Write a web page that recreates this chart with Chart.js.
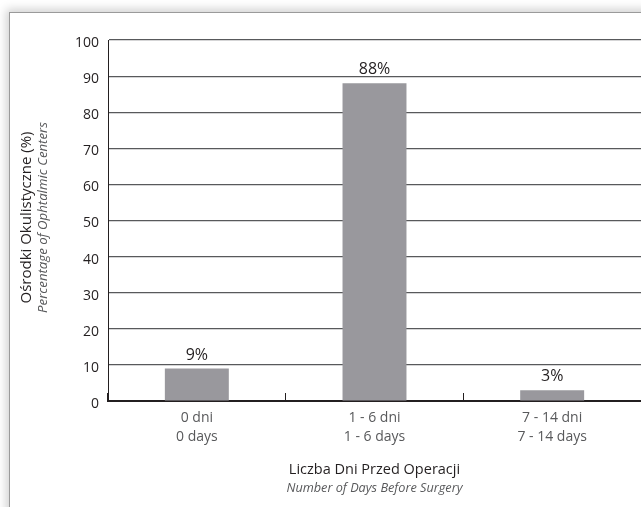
<!DOCTYPE html>
<html>
<head>
<meta charset="utf-8">
<script src="https://cdn.jsdelivr.net/npm/chart.js@4.4.1/dist/chart.umd.min.js"></script>
<style>
  html, body { margin:0; padding:0; background:#fff; width:641px; height:507px; overflow:hidden; }
  #panel { position:absolute; left:9px; top:12px; width:700px; height:600px; background:#fff;
           border-left:1px solid #9a9a9a; border-top:1px solid #9a9a9a;
           box-shadow:-3px -3px 9px rgba(0,0,0,0.18); }
  #c { position:absolute; left:0; top:0; }
</style>
</head>
<body>
<div id="panel"></div>
<canvas id="c" width="641" height="507"></canvas>
<script>
const categories = [['0 dni','0 days'], ['1 - 6 dni','1 - 6 days'], ['7 - 14 dni','7 - 14 days']];
const values = [9, 88, 3];
const yTicks = [0,10,20,30,40,50,60,70,80,90,100];
const yTitle = ['Ośrodki Okulistyczne (%)', 'Percentage of Ophtalmic Centers'];
const xTitle = ['Liczba Dni Przed Operacji', 'Number of Days Before Surgery'];

const FONT = '"Open Sans", "Noto Sans", sans-serif';

const labelsPlugin = {
  id: 'valueLabels',
  afterDatasetsDraw(chart) {
    const ctx = chart.ctx;
    const meta = chart.getDatasetMeta(0);
    ctx.save();
    ctx.font = '16px ' + FONT;
    ctx.fillStyle = '#231f20';
    ctx.textAlign = 'center';
    ctx.textBaseline = 'alphabetic';
    meta.data.forEach((bar, i) => {
      ctx.fillText(values[i] + '%', bar.x, bar.y - 9);
    });
    ctx.restore();
  }
};

const titlesPlugin = {
  id: 'axisTitles',
  afterDraw(chart) {
    const ctx = chart.ctx;
    const a = chart.chartArea;
    ctx.save();
    ctx.textAlign = 'center';
    ctx.textBaseline = 'middle';
    // x title
    const cx = (a.left + a.right) / 2;
    ctx.fillStyle = '#231f20';
    ctx.font = '14.5px ' + FONT;
    ctx.fillText(xTitle[0], cx, a.bottom + 69);
    ctx.fillStyle = '#58595b';
    ctx.font = 'italic 12.7px ' + FONT;
    ctx.fillText(xTitle[1], cx, a.bottom + 87);
    // y title
    const cy = (a.top + a.bottom) / 2 - 3;
    ctx.translate(a.left - 81, cy);
    ctx.rotate(-Math.PI / 2);
    ctx.fillStyle = '#231f20';
    ctx.font = '15px ' + FONT;
    ctx.fillText(yTitle[0], 0, 0);
    ctx.fillStyle = '#58595b';
    ctx.font = 'italic 13.2px ' + FONT;
    ctx.fillText(yTitle[1], 0, 16);
    ctx.restore();
  }
};

new Chart(document.getElementById('c'), {
  type: 'bar',
  data: {
    labels: categories,
    datasets: [{
      data: values,
      backgroundColor: '#99989d',
      borderWidth: 0,
      categoryPercentage: 1,
      barPercentage: 0.36
    }]
  },
  options: {
    responsive: false,
    animation: false,
    devicePixelRatio: 1,
    layout: { padding: { top: 40, right: 0, left: 0, bottom: 0 } },
    plugins: { legend: { display: false }, tooltip: { enabled: false } },
    scales: {
      x: {
        grid: { display: true, offset: true, drawOnChartArea: false, drawTicks: true,
                tickLength: -8, tickColor: '#231f20', tickWidth: 1 },
        border: { display: true, color: '#231f20', width: 2 },
        ticks: { color: '#58595b', font: { family: FONT, size: 14, lineHeight: 1.35 }, padding: 16, maxRotation: 0 },
        afterFit(scale) { scale.height = 106; }
      },
      y: {
        min: 0, max: 100,
        afterBuildTicks(scale) { scale.ticks = yTicks.map(v => ({ value: v })); },
        grid: { color: '#58595b', lineWidth: 1.2, drawTicks: false },
        border: { display: true, color: '#231f20', width: 1 },
        ticks: { color: '#231f20', font: { family: FONT, size: 14 }, padding: 9, labelOffset: 3 },
        afterFit(scale) { scale.width = 108; }
      }
    }
  },
  plugins: [labelsPlugin, titlesPlugin]
});
</script>
</body>
</html>
